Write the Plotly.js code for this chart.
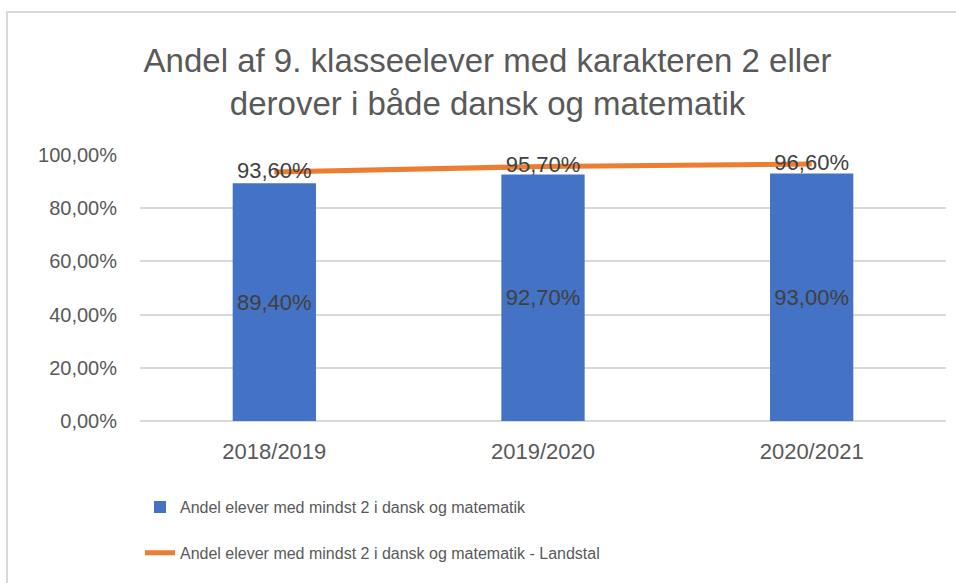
<!DOCTYPE html>
<html>
<head>
<meta charset="utf-8">
<script src="https://cdn.plot.ly/plotly-3.0.1.min.js"></script>
<style>
  html, body { margin: 0; padding: 0; background: #fff; }
  #frame {
    position: absolute; left: 6px; top: 11px; width: 980px; height: 600px;
    border-top: 2px solid #d9d9d9; border-left: 2px solid #d9d9d9;
  }
  #chart { position: absolute; left: 0; top: 0; width: 956px; height: 583px; }
</style>
</head>
<body>
<div id="frame"></div>
<div id="chart"></div>
<script>
// school years
const years = ["2018/2019", "2019/2020", "2020/2021"];

// share of pupils with grade 2 or above (municipality)
const shareLocal = [0.894, 0.927, 0.930];

// national figure
const shareNational = [0.936, 0.957, 0.966];

const yTicks = [0, 0.2, 0.4, 0.6, 0.8, 1.0];

const FONT = "Liberation Sans, Arial, sans-serif";

const barTrace = {
  type: "bar",
  x: years,
  y: shareLocal,
  name: "Andel elever med mindst 2 i dansk og matematik",
  marker: { color: "#4472C4" },
  width: 0.31,
  texttemplate: "%{y:.2%}",
  textposition: "inside",
  insidetextanchor: "middle",
  textfont: { color: "#404040", size: 22, family: FONT },
  legendgroup: "a",
  hoverinfo: "x+y"
};

const lineTrace = {
  type: "scatter",
  mode: "lines+text",
  x: years,
  y: shareNational,
  name: "Andel elever med mindst 2 i dansk og matematik - Landstal",
  line: { color: "#ED7D31", width: 5 },
  texttemplate: "%{y:.2%}",
  textposition: "middle center",
  textfont: { color: "#404040", size: 22, family: FONT },
  legendgroup: "b",
  hoverinfo: "x+y"
};

const layout = {
  width: 956,
  height: 583,
  separators: ",.",
  paper_bgcolor: "rgba(0,0,0,0)",
  plot_bgcolor: "rgba(0,0,0,0)",
  font: { family: FONT, color: "#595959", size: 18 },
  margin: { l: 140, r: 10, t: 155, b: 162 },
  title: {
    text: "Andel af 9. klasseelever med karakteren 2 eller<br>derover i både dansk og matematik",
    font: { size: 33, color: "#595959", family: FONT },
    x: 0.51,
    xanchor: "center",
    y: 0.876,
    yanchor: "top",
    yref: "container"
  },
  xaxis: {
    type: "category",
    showgrid: false,
    showline: false,
    ticks: "",
    ticklabelstandoff: 15,
    tickfont: { size: 22, color: "#595959" }
  },
  yaxis: {
    range: [0, 1.0],
    tickvals: yTicks,
    tickformat: ".2%",
    showgrid: true,
    gridcolor: "#d9d9d9",
    gridwidth: 1.5,
    zeroline: true,
    zerolinecolor: "#d9d9d9",
    zerolinewidth: 1.5,
    ticks: "",
    ticklabelstandoff: 22,
    tickfont: { size: 20, color: "#595959" }
  },
  showlegend: true,
  legend: {
    orientation: "v",
    x: 0.0,
    xanchor: "left",
    y: -0.26,
    yanchor: "top",
    tracegroupgap: 22,
    font: { size: 16, color: "#595959", family: FONT },
    bgcolor: "rgba(0,0,0,0)"
  }
};

Plotly.newPlot("chart", [barTrace, lineTrace], layout, { displayModeBar: false });
</script>
</body>
</html>
